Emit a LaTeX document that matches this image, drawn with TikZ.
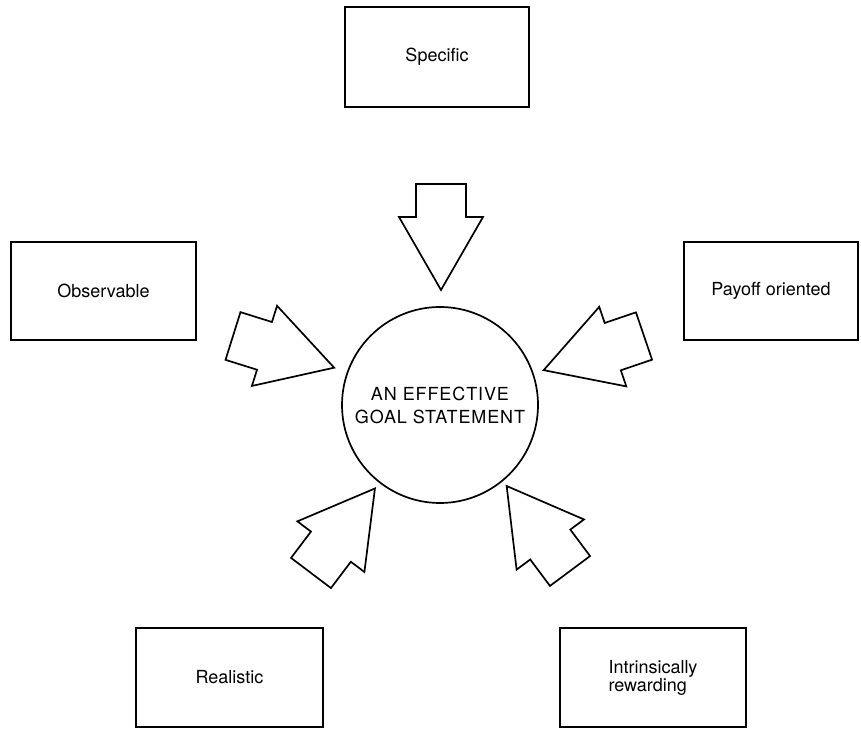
\documentclass[tikz,border=0pt]{standalone}
\usepackage{fontspec}
\setmainfont{TeX Gyre Heros}
\newfontfamily\spacedfont[LetterSpace=5]{TeX Gyre Heros}
\usepackage{tikz}

\begin{document}
\begin{tikzpicture}[x=1pt,y=1pt,line width=1.7pt,
    box/.style={rectangle,draw,inner sep=2pt,align=center,
      font=\fontsize{18}{18}\selectfont},
    goal/.style={circle,draw,minimum size=196pt,inner sep=0pt,align=center,
      font=\spacedfont\fontsize{18}{23}\selectfont}]

    \useasboundingbox (0,0) rectangle (861,728);

    % Goal circle in the middle
    \node[goal] (goal) at (440,323) {AN EFFECTIVE\\GOAL STATEMENT};

    % The five qualities
    \node[box,minimum width=184pt,minimum height=100pt] (spec) at (437,671) {Specific};
    \node[box,minimum width=185pt,minimum height=98pt] (obs) at (103.5,437) {Observable};
    \node[box,minimum width=174pt,minimum height=98pt] (pay) at (771,437) {Payoff oriented};
    \node[box,minimum width=187pt,minimum height=99pt] (real) at (229.5,50.5) {Realistic};
    \node[box,minimum width=186pt,minimum height=99pt,align=left] (intr) at (653,50.5)
      {Intrinsically\\rewarding};

    % Block arrows pointing at the circle (tail point / direction)
    \foreach \n/\x/\y/\a in {top/441/544/-90, left/233/392/-17.4, right/644/392/198.8,
                             lowl/311/155/52.9, lowr/570/157/126.7} {
      \draw[line join=miter,shift={(\x,\y)},rotate=\a]
        (0,-25) -- (33,-25) -- (33,-42) -- (106,0) -- (33,42) -- (33,25) -- (0,25) -- cycle;
    }

\end{tikzpicture}
\end{document}
